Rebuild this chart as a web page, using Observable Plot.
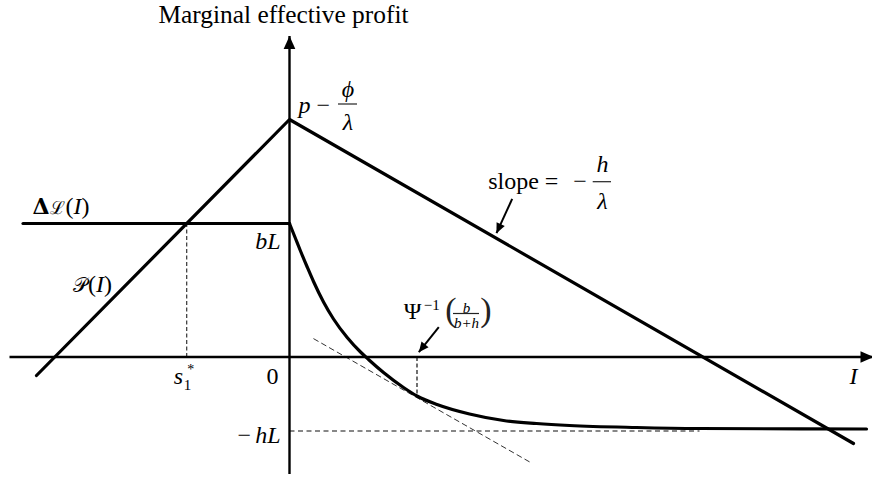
<!DOCTYPE html>
<html>
<head>
<meta charset="utf-8">
<script src="https://cdn.jsdelivr.net/npm/d3@7"></script>
<script src="https://cdn.jsdelivr.net/npm/@observablehq/plot@0.6"></script>
<style>
  html, body { margin: 0; padding: 0; background: #fff; }
  #chart svg { display: block; }
</style>
</head>
<body>
<div id="chart"></div>
<script>
// Key levels of the marginal effective profit diagram
const peakValue = 4.75;       // p − ϕ/λ
const bL = 2.67;              // bL
const hL = 1.48;              // hL
const s1 = -2.056;            // s1*, where 𝒫(I) meets ΔL(I)
const tangentI = 2.55;        // Ψ⁻¹(b/(b+h))
const tangentV = -0.78;

// Axis extents
const xAxisI = [-5.6, 11.68];
const yAxisV = [-2.34, 6.42];

// 𝒫(I): rising line to the peak, then slope −h/λ
const profitI = [-5.06, 0, 11.28];
const profitV = [-0.37, peakValue, -1.73];

// ΔL(I): flat at bL for I < 0 ...
const ceilingI = [-5.33, 0];
// ... then a convex decay toward −hL for I ≥ 0
const lossI = [0, 0.12, 0.22, 0.354, 0.48, 0.68, 0.88, 1.154, 1.42, 1.58, 1.88, 2.28, 2.55, 2.95, 3.6, 4.28, 4.94, 5.6, 6.94, 8.2, 11.54];
const lossV = [bL, 2.37, 2.12, 1.80, 1.51, 1.10, 0.76, 0.39, 0.10, -0.05, -0.31, -0.61, -0.78, -0.95, -1.14, -1.27, -1.33, -1.37, -1.41, -1.43, -1.44];

// Tangent to ΔL(I) at Ψ⁻¹(b/(b+h))
const tangentLineI = [0.486, 4.84];
const tangentLineV = [0.364, -2.12];

// −hL reference level extent
const hLLineI = [0, 8.2];

// Pointer arrows: [start, tip]
const slopeArrow = [[4.454, 3.164], [4.14, 2.476]];
const psiArrow = [[2.986, 0.596], [2.586, 0.096]];

const profit = profitI.map((I, i) => ({I, v: profitV[i]}));
const ceiling = ceilingI.map((I) => ({I, v: bL}));
const loss = lossI.map((I, i) => ({I, v: lossV[i]}));
const tangent = tangentLineI.map((I, i) => ({I, v: tangentLineV[i]}));

// Filled arrowhead with its tip at the origin, pointing up
const arrowhead = {
  draw(context, size) {
    const len = Math.sqrt(size / Math.PI);
    const half = len * 0.45;
    context.moveTo(0, 0);
    context.lineTo(half, len);
    context.lineTo(-half, len);
    context.closePath();
  }
};
const heading = ([a, b]) => Math.atan2(b[0] - a[0], b[1] - a[1]) * 180 / Math.PI;

const serif = "'Liberation Serif', 'Times New Roman', 'DejaVu Serif', serif";

// Horizontal fraction bar placed relative to a data anchor
function fractionBar(anchor, dx1, dx2, dy) {
  return (index, scales) => {
    const x = scales.x(anchor[0]), y = scales.y(anchor[1]);
    return d3.create("svg:line")
      .attr("x1", x + dx1).attr("x2", x + dx2)
      .attr("y1", y + dy).attr("y2", y + dy)
      .attr("stroke", "#222").attr("stroke-width", 1.2)
      .node();
  };
}

// Mixed-style label (upright, italic, bold runs) laid out as one text line
function richLabel(anchor, dx, dy, runs) {
  return (index, scales) => {
    const text = d3.create("svg:text")
      .attr("x", scales.x(anchor[0]) + dx)
      .attr("y", scales.y(anchor[1]) + dy)
      .attr("text-anchor", "start")
      .attr("font-family", serif)
      .attr("font-size", 24)
      .attr("fill", "#000");
    for (const run of runs) {
      const span = text.append("tspan").text(run.text);
      if (run.italic) span.attr("font-style", "italic");
      if (run.bold) span.attr("font-weight", "bold");
      if (run.size) span.attr("font-size", run.size);
      if (run.family) span.attr("font-family", run.family);
      if (run.dx) span.attr("dx", run.dx);
    }
    return text.node();
  };
}

const T = (text, anchor, dx, dy, o = {}) =>
  Plot.text([anchor], {x: d => d[0], y: d => d[1], text: () => text, dx, dy,
    lineAnchor: "bottom", textAnchor: "start", fontSize: 24, fontFamily: serif, fill: "#000", ...o});

const origin = [0, 0];
const peakPt = [0, peakValue];
const bLPt = [0, bL];
const hLPt = [0, -hL];
const s1Pt = [s1, 0];
const xEnd = [xAxisI[1], 0];
const yTop = [0, yAxisV[1]];
const ceilStart = [ceilingI[0], bL];
const profitStart = [profitI[0], profitV[0]];

const chart = Plot.plot({
  width: 872,
  height: 480,
  margin: 0,
  x: {domain: [-5.78, 11.66], axis: null},
  y: {domain: [-2.47, 7.13], axis: null},
  style: {background: "#fff", fontFamily: serif},
  marks: [
    // dashed guides
    Plot.link([s1Pt], {x1: d => d[0], y1: 0, x2: d => d[0], y2: bL, stroke: "#333", strokeWidth: 1.2, strokeDasharray: "4,2.5"}),
    Plot.line(tangent, {x: "I", y: "v", stroke: "#333", strokeWidth: 1, strokeDasharray: "5,4"}),
    Plot.link([tangentI], {x1: d => d, y1: 0, x2: d => d, y2: tangentV, stroke: "#111", strokeWidth: 1.2, strokeDasharray: "4,2.5"}),
    Plot.link([hLLineI], {x1: d => d[0], x2: d => d[1], y1: -hL, y2: -hL, stroke: "#111", strokeWidth: 1.2, strokeDasharray: "5,3.5"}),

    // axes
    Plot.link([xAxisI], {x1: d => d[0], x2: d => d[1], y1: 0, y2: 0, stroke: "#000", strokeWidth: 2.4}),
    Plot.link([yAxisV], {x1: 0, x2: 0, y1: d => d[0], y2: d => d[1], stroke: "#000", strokeWidth: 2.4}),
    Plot.dot([yTop], {x: d => d[0], y: d => d[1], symbol: arrowhead, r: 13, rotate: 0, fill: "#000"}),
    Plot.dot([xEnd], {x: d => d[0], y: d => d[1], symbol: arrowhead, r: 13, rotate: 90, fill: "#000"}),

    // curves
    Plot.line(profit, {x: "I", y: "v", stroke: "#000", strokeWidth: 3.2, strokeLinejoin: "miter"}),
    Plot.line(ceiling, {x: "I", y: "v", stroke: "#000", strokeWidth: 3.2, strokeLinecap: "round"}),
    Plot.line(loss, {x: "I", y: "v", stroke: "#000", strokeWidth: 3.2, curve: "monotone-x", strokeLinecap: "round"}),

    // pointer arrows
    Plot.link([slopeArrow, psiArrow], {x1: d => d[0][0], y1: d => d[0][1], x2: d => d[1][0], y2: d => d[1][1], stroke: "#000", strokeWidth: 2}),
    Plot.dot([slopeArrow, psiArrow], {x: d => d[1][0], y: d => d[1][1], symbol: arrowhead, r: 10, rotate: heading, fill: "#000"}),

    // labels
    T("Marginal effective profit", yTop, -6, -13.5, {textAnchor: "middle", fontSize: 25.4}),

    T("p", peakPt, 9, -7, {fontStyle: "italic"}),
    T("−", peakPt, 27, -7),
    T("ϕ", peakPt, 58.5, -23, {textAnchor: "middle", fontStyle: "italic"}),
    fractionBar(peakPt, 49, 68, -15),
    T("λ", peakPt, 58.5, 10, {textAnchor: "middle", fontStyle: "italic"}),

    T("slope =", slopeArrow[0], -24, -10.3),
    T("−", slopeArrow[0], 61, -10.3),
    T("h", slopeArrow[0], 90.3, -26.6, {textAnchor: "middle", fontStyle: "italic"}),
    fractionBar(slopeArrow[0], 81, 99.3, -16.6),
    T("λ", slopeArrow[0], 90.3, 10.2, {textAnchor: "middle", fontStyle: "italic"}),

    richLabel(ceilStart, 10, -9, [
      {text: "Δ", bold: true, size: 22, family: "'DejaVu Serif', serif"},
      {text: "ℒ", size: 18},
      {text: "(", dx: 1},
      {text: "I", italic: true},
      {text: ")"}
    ]),

    richLabel(profitStart, 37, -83, [
      {text: "𝒫", size: 20},
      {text: "(", dx: 1},
      {text: "I", italic: true},
      {text: ")"}
    ]),

    T("bL", bLPt, -9, 25, {textAnchor: "end", fontStyle: "italic"}),
    T("0", origin, -11, 26.5, {textAnchor: "end"}),
    T("−", hLPt, -52, 11.5),
    T("hL", hLPt, -9, 11.5, {textAnchor: "end", fontStyle: "italic"}),
    T("s", s1Pt, -13, 26.5, {fontStyle: "italic"}),
    T("1", s1Pt, -3, 32.5, {fontSize: 15}),
    T("*", s1Pt, 0.5, 16.5, {fontSize: 14}),
    T("I", xEnd, -24, 26.5, {fontStyle: "italic"}),

    T("Ψ", psiArrow[0], -35, -8.7),
    T("−1", psiArrow[0], -15, -17.7, {fontSize: 15}),
    T("(", psiArrow[0], 6.5, -6.5, {fontSize: 34, fill: "#222"}),
    T("b", psiArrow[0], 27.7, -14.7, {textAnchor: "middle", fontSize: 15, fontStyle: "italic"}),
    fractionBar(psiArrow[0], 14.7, 40.7, -13.2),
    T("b+h", psiArrow[0], 27.7, 0.3, {textAnchor: "middle", fontSize: 15, fontStyle: "italic"}),
    T(")", psiArrow[0], 41.5, -6.5, {fontSize: 34, fill: "#222"})
  ]
});

document.getElementById("chart").append(chart);
</script>
</body>
</html>
